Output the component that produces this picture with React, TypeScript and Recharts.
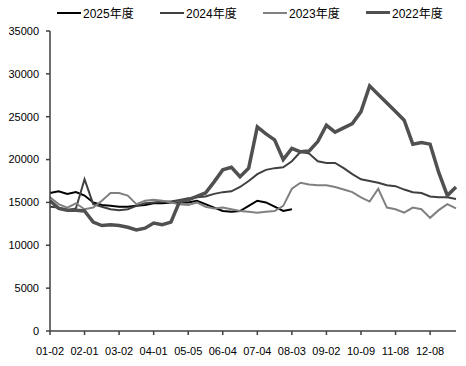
import { LineChart, Line, XAxis, YAxis } from "recharts";

// trading-day position of each sample
const dayIndex = [
  0, 5, 10, 15, 20, 25, 30, 35, 40, 45, 50, 55, 60, 65, 70, 75, 80, 85, 90, 95,
  100, 105, 110, 115, 120, 125, 130, 135, 140, 145, 150, 155, 160, 165, 170,
  175, 180, 185, 190, 195, 200, 205, 210, 215, 220, 225, 230, 235,
];

const tickPos = [0, 20, 40, 60, 80, 100, 120, 140, 160, 180, 200, 220];
const tickLabels = [
  "01-02", "02-01", "03-02", "04-01", "05-05", "06-04",
  "07-04", "08-03", "09-02", "10-09", "11-08", "12-08",
];

const y2025 = [
  16100, 16300, 16000, 16200, 15800, 15000, 14700, 14600, 14500, 14500, 14600,
  14700, 14900, 14900, 15000, 15000, 15000, 15200, 14800, 14400, 14000, 13900,
  14000, 14600, 15200, 15000, 14500, 14000, 14200,
];

const y2024 = [
  14500, 14400, 14100, 14300, 17700, 14800, 14500, 14200, 14100, 14200, 14600,
  14900, 15000, 15100, 15100, 15300, 15500, 15600, 15700, 16000, 16200, 16300,
  16800, 17500, 18300, 18800, 19000, 19100, 19800, 20900, 20700, 19800, 19600,
  19600, 19000, 18300, 17700, 17500, 17300, 17000, 16900, 16500, 16200, 16100,
  15700, 15600, 15600, 15400,
];

const y2023 = [
  15600, 14800, 14400, 14900, 14200, 14400, 15200, 16100, 16100, 15800, 14800,
  15200, 15300, 15200, 15000, 14800, 14700, 15000, 14500, 14300, 14400, 14200,
  14000, 13900, 13800, 13900, 14000, 14600, 16600, 17300, 17100, 17000, 17000,
  16800, 16500, 16200, 15600, 15100, 16600, 14400, 14200, 13800, 14400, 14200,
  13200, 14100, 14800, 14300,
];

const y2022 = [
  15200, 14300, 14100, 14100, 14000, 12700, 12300, 12400, 12300, 12100, 11800,
  12000, 12600, 12400, 12700, 15100, 15300, 15700, 16100, 17400, 18800, 19100,
  18000, 19000, 23800, 23000, 22300, 20000, 21300, 20900, 21000, 22100, 24000,
  23200, 23700, 24200, 25600, 28600, 27600, 26600, 25600, 24600, 21800, 22000,
  21800, 18500, 15800, 16800,
];

const series = [
  { key: "s2025", name: "2025年度", color: "#000000", width: 2 },
  { key: "s2024", name: "2024年度", color: "#404040", width: 2 },
  { key: "s2023", name: "2023年度", color: "#808080", width: 2 },
  { key: "s2022", name: "2022年度", color: "#505050", width: 3.5 },
];

const data = dayIndex.map((d, i) => ({
  d,
  s2025: i < y2025.length ? y2025[i] : null,
  s2024: y2024[i],
  s2023: y2023[i],
  s2022: y2022[i],
}));

const font = "'Liberation Sans', 'Noto Sans CJK SC', sans-serif";

function LegendBox() {
  return (
    <div
      style={{
        position: "absolute",
        top: 4,
        left: 57,
        display: "flex",
        fontFamily: font,
        fontSize: 12,
      }}
    >
      {series.map((s) => (
        <div key={s.key} style={{ display: "flex", alignItems: "center", width: 103 }}>
          <span
            style={{
              display: "inline-block",
              width: 24,
              height: s.width,
              background: s.color,
              marginRight: 2,
            }}
          />
          <span style={{ color: "#000" }}>{s.name}</span>
        </div>
      ))}
    </div>
  );
}

export default function App() {
  return (
    <div style={{ position: "relative", width: 466, height: 366, background: "#fff" }}>
      <style>{`body{margin:0}`}</style>
      <LegendBox />
      <LineChart
        width={466}
        height={366}
        data={data}
        margin={{ top: 31, right: 10, bottom: 5, left: 0 }}
      >
        <XAxis
          dataKey="d"
          type="number"
          domain={[0, 235]}
          ticks={tickPos}
          tickFormatter={(v) => tickLabels[tickPos.indexOf(v)]}
          height={30}
          stroke="#404040"
          strokeWidth={1.5}
          tickSize={4}
          tickMargin={12}
          tick={{ fill: "#000", fontSize: 11, fontFamily: font }}
          interval={0}
        />
        <YAxis
          domain={[0, 35000]}
          ticks={[0, 5000, 10000, 15000, 20000, 25000, 30000, 35000]}
          width={50}
          stroke="#404040"
          strokeWidth={1.5}
          tickSize={4}
          tickMargin={7}
          tick={{ fill: "#000", fontSize: 11, fontFamily: font }}
          interval={0}
        />
        {series.map((s) => (
          <Line
            key={s.key}
            dataKey={s.key}
            name={s.name}
            type="linear"
            stroke={s.color}
            strokeWidth={s.width}
            dot={false}
            isAnimationActive={false}
            connectNulls={false}
          />
        ))}
      </LineChart>
    </div>
  );
}
